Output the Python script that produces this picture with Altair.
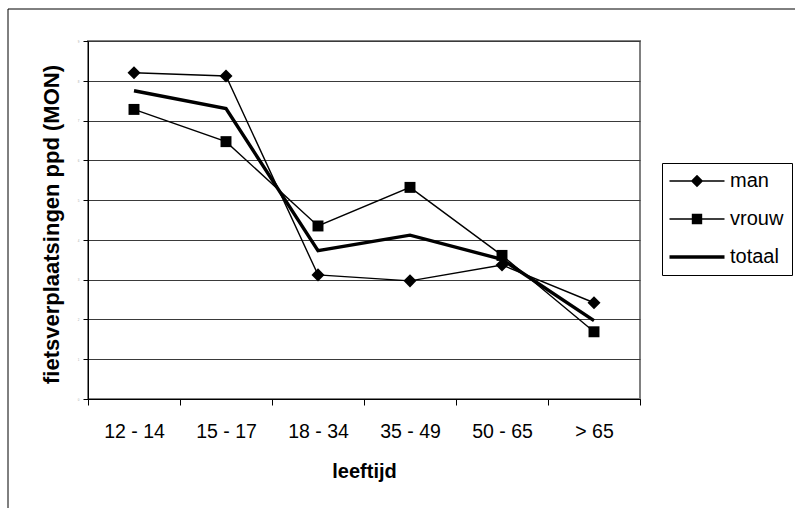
import altair as alt
import pandas as pd

# ---- data ----
ages = ["12 - 14", "15 - 17", "18 - 34", "35 - 49", "50 - 65", "> 65"]
man = [8.20, 8.12, 3.12, 2.97, 3.37, 2.42]
vrouw = [7.28, 6.47, 4.35, 5.32, 3.61, 1.69]
totaal = [7.75, 7.30, 3.73, 4.12, 3.51, 1.97]
series_names = ["man", "vrouw", "totaal"]
y_ticks = [0, 1, 2, 3, 4, 5, 6, 7, 8, 9]

rows = []
for name, vals in zip(series_names, [man, vrouw, totaal]):
    for a, v in zip(ages, vals):
        rows.append({"age": a, "series": name, "value": v})
df = pd.DataFrame(rows)

FONT = "Liberation Sans"

x_enc = alt.X(
    "age:N",
    sort=ages,
    bandPosition=0.5,
    scale=alt.Scale(type="band", domain=ages, paddingInner=0, paddingOuter=0),
    title="leeftijd",
    axis=alt.Axis(
        tickBand="extent",
        grid=False,
        domainColor="black",
        domainWidth=1,
        tickColor="black",
        tickSize=6,
        labelAngle=0,
        labelFont=FONT,
        labelFontSize=19.5,
        labelColor="black",
        labelBaseline="alphabetic",
        labelPadding=32,
        titleFont=FONT,
        titleFontSize=20,
        titleFontWeight="bold",
        titleColor="black",
        titleBaseline="alphabetic",
        titleAlign="center",
        titleX=276,
        titleY=78,
    ),
)

y_enc = alt.Y(
    "value:Q",
    scale=alt.Scale(domain=[0, 9], nice=False, zero=True),
    title="fietsverplaatsingen ppd (MON)",
    axis=alt.Axis(
        values=y_ticks,
        grid=True,
        gridColor="#3a3a3a",
        gridWidth=1,
        domainColor="black",
        domainWidth=1,
        tickColor="black",
        tickSize=5,
        labelFont=FONT,
        labelFontSize=3,
        labelColor="#aaaaaa",
        labelPadding=4,
        titleFont=FONT,
        titleFontSize=22,
        titleFontWeight="bold",
        titleColor="black",
        titleAngle=270,
        titleBaseline="alphabetic",
        titleAlign="center",
        titleX=-30,
        titleY=183,
    ),
)

thin_lines = (
    alt.Chart(df)
    .transform_filter("datum.series != 'totaal'")
    .mark_line(color="black", strokeWidth=1.4)
    .encode(x=x_enc, y=y_enc, detail="series:N")
)

thick_line = (
    alt.Chart(df)
    .transform_filter("datum.series == 'totaal'")
    .mark_line(color="black", strokeWidth=3.4)
    .encode(x=x_enc, y=y_enc, detail="series:N")
)

points = (
    alt.Chart(df)
    .transform_filter("datum.series != 'totaal'")
    .mark_point(filled=True, color="black", opacity=1)
    .encode(
        x=x_enc,
        y=y_enc,
        shape=alt.Shape(
            "series:N",
            scale=alt.Scale(domain=["man", "vrouw"], range=["diamond", "square"]),
            legend=None,
        ),
        size=alt.Size(
            "series:N",
            scale=alt.Scale(domain=["man", "vrouw"], range=[170, 120]),
            legend=None,
        ),
    )
)

legend_paths = [
    "M-2.75,-0.07H2.75V0.07H-2.75ZM-0.62,0L0,-0.62L0.62,0L0,0.62Z",
    "M-2.75,-0.07H2.75V0.07H-2.75ZM-0.52,-0.52H0.52V0.52H-0.52Z",
    "M-2.75,-0.17H2.75V0.17H-2.75Z",
]

legend_layer = (
    alt.Chart(df)
    .transform_calculate(leg="datum.series")
    .transform_filter("false")
    .mark_point(filled=True, color="black", opacity=1)
    .encode(
        x=x_enc,
        y=y_enc,
        shape=alt.Shape(
            "leg:N",
            scale=alt.Scale(domain=series_names, range=legend_paths),
            legend=alt.Legend(
                title=None,
                orient="none",
                legendX=574,
                legendY=122,
                strokeColor="black",
                padding=8,
                symbolSize=400,
                symbolStrokeWidth=0,
                symbolFillColor="black",
                symbolStrokeColor="black",
                symbolOpacity=1,
                symbolOffset=17,
                labelFont=FONT,
                labelFontSize=20,
                labelColor="black",
                labelOffset=23,
                rowPadding=18,
            ),
        ),
    )
)

frame = (
    alt.Chart(alt.Data(values=[{}]))
    .mark_rect(fillOpacity=0, stroke="black", strokeWidth=1)
    .encode(
        x=alt.value(-80),
        x2=alt.value(900),
        y=alt.value(-32),
        y2=alt.value(600),
    )
)

chart = (
    alt.layer(frame, thin_lines, thick_line, points, legend_layer)
    .resolve_scale(shape="independent", size="independent")
    .properties(
        width=552,
        height=358,
        autosize=alt.AutoSizeParams(type="none"),
        padding={"left": 88, "top": 41, "right": 155, "bottom": 109},
        background="white",
    )
    .configure_view(stroke="#808080", strokeWidth=2)
)

chart.save("out.html", embed_options={"renderer": "svg", "actions": False})
